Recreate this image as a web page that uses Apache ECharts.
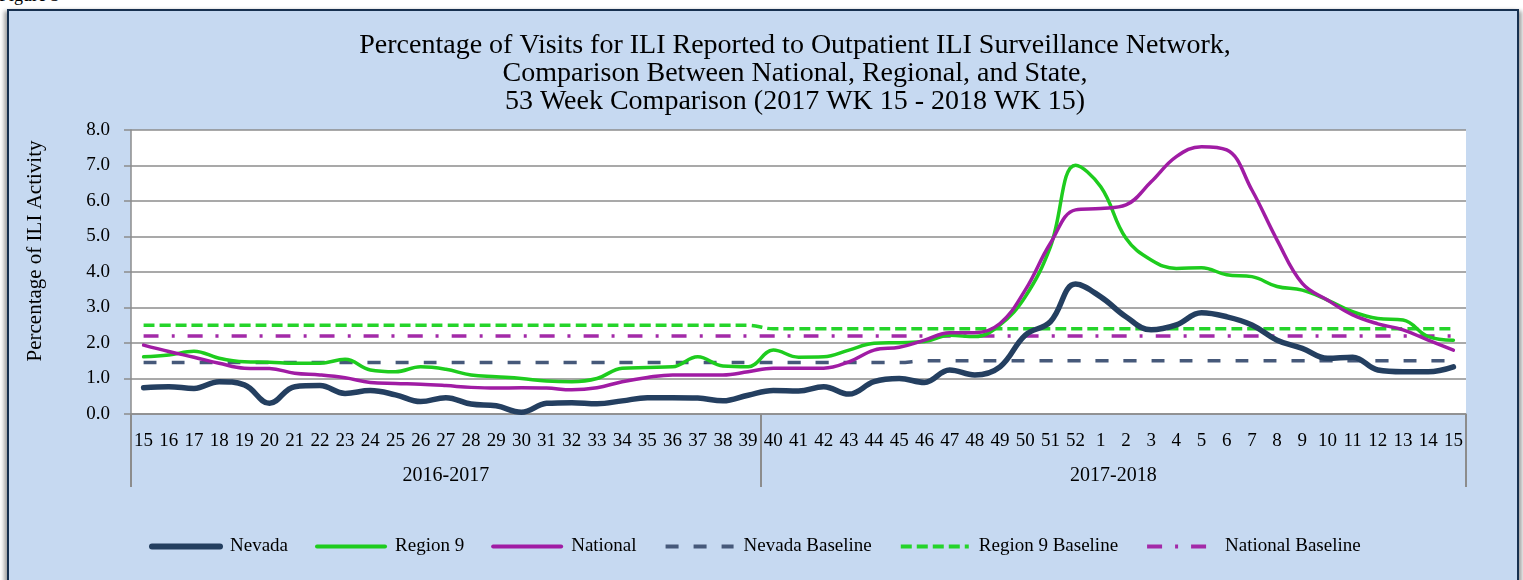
<!DOCTYPE html>
<html>
<head>
<meta charset="utf-8">
<script src="https://cdn.jsdelivr.net/npm/echarts@6/dist/echarts.min.js"></script>
<style>
html,body{margin:0;padding:0;background:#fff;width:1523px;height:580px;overflow:hidden;position:relative;}
#fig{position:absolute;left:-1px;top:-15px;font:18px "Liberation Serif",serif;color:#000;}
#frame{position:absolute;left:7px;top:9px;width:1508px;height:600px;background:#C6D9F1;border:2px solid #17304F;box-shadow:-3px 2px 4px rgba(0,0,0,0.35),3px 2px 4px rgba(0,0,0,0.35);}
#chart{position:absolute;left:0;top:0;width:1523px;height:580px;}
</style>
</head>
<body>
<div id="fig">Figure 3</div>
<div id="frame"></div>
<div id="chart"></div>
<script>
const titleLines = [
  'Percentage of Visits for ILI Reported to Outpatient ILI Surveillance Network,',
  'Comparison Between National, Regional, and State,',
  '53 Week Comparison (2017 WK 15 - 2018 WK 15)'
];
const weeks = ['15','16','17','18','19','20','21','22','23','24','25','26','27','28','29','30','31','32','33','34','35','36','37','38','39',
  '40','41','42','43','44','45','46','47','48','49','50','51','52','1','2','3','4','5','6','7','8','9','10','11','12','13','14','15'];
const seasons = ['2016-2017','2017-2018'];
const seasonWeekCounts = [25, 28];
const seriesNames = ['Nevada','Region 9','National','Nevada Baseline','Region 9 Baseline','National Baseline'];

const nevada = [0.74,0.77,0.72,0.91,0.82,0.30,0.77,0.80,0.58,0.66,0.54,0.35,0.46,0.28,0.23,0.05,0.30,0.32,0.29,0.37,0.46,0.46,0.45,0.37,0.53,
  0.66,0.65,0.77,0.56,0.91,1.00,0.89,1.24,1.10,1.33,2.22,2.60,3.66,3.30,2.74,2.37,2.51,2.85,2.74,2.51,2.08,1.85,1.57,1.60,1.24,1.19,1.19,1.33];
const region9 = [1.61,1.66,1.77,1.57,1.47,1.46,1.43,1.43,1.54,1.24,1.19,1.33,1.26,1.10,1.05,1.00,0.93,0.91,1.00,1.29,1.31,1.33,1.61,1.35,1.33,
  1.80,1.60,1.61,1.80,1.99,2.01,2.04,2.22,2.18,2.51,3.30,4.71,7.01,6.40,4.95,4.34,4.10,4.12,3.92,3.87,3.59,3.49,3.21,2.88,2.69,2.65,2.18,2.08];
const national = [1.94,1.76,1.60,1.43,1.29,1.28,1.15,1.10,1.02,0.89,0.86,0.84,0.80,0.75,0.73,0.74,0.73,0.68,0.74,0.91,1.03,1.10,1.10,1.10,1.19,
  1.29,1.29,1.29,1.47,1.80,1.88,2.08,2.29,2.29,2.55,3.49,4.81,5.75,5.79,5.89,6.54,7.25,7.53,7.44,6.31,4.90,3.68,3.21,2.79,2.54,2.37,2.08,1.80];
const nevadaBaseline = [1.45,1.45,1.45,1.45,1.45,1.45,1.45,1.45,1.45,1.45,1.45,1.45,1.45,1.45,1.45,1.45,1.45,1.45,1.45,1.45,1.45,1.45,1.45,1.45,1.45,
  1.45,1.45,1.45,1.45,1.45,1.45,1.5,1.5,1.5,1.5,1.5,1.5,1.5,1.5,1.5,1.5,1.5,1.5,1.5,1.5,1.5,1.5,1.5,1.5,1.5,1.5,1.5,1.5];
const region9Baseline = [2.5,2.5,2.5,2.5,2.5,2.5,2.5,2.5,2.5,2.5,2.5,2.5,2.5,2.5,2.5,2.5,2.5,2.5,2.5,2.5,2.5,2.5,2.5,2.5,2.5,
  2.4,2.4,2.4,2.4,2.4,2.4,2.4,2.4,2.4,2.4,2.4,2.4,2.4,2.4,2.4,2.4,2.4,2.4,2.4,2.4,2.4,2.4,2.4,2.4,2.4,2.4,2.4,2.4];
const nationalBaseline = [2.2,2.2,2.2,2.2,2.2,2.2,2.2,2.2,2.2,2.2,2.2,2.2,2.2,2.2,2.2,2.2,2.2,2.2,2.2,2.2,2.2,2.2,2.2,2.2,2.2,
  2.2,2.2,2.2,2.2,2.2,2.2,2.2,2.2,2.2,2.2,2.2,2.2,2.2,2.2,2.2,2.2,2.2,2.2,2.2,2.2,2.2,2.2,2.2,2.2,2.2,2.2,2.2,2.2];

// half-week slots for the season axis (boundaries and centres)
const totalHalf = weeks.length * 2;
const slots = [];
for (let j = 0; j <= totalHalf; j++) slots.push(String(j));
const sepSlots = [0];
const labelSlots = {};
let acc = 0;
seasonWeekCounts.forEach((c, k) => {
  labelSlots[acc * 2 + c] = seasons[k];
  acc += c;
  sepSlots.push(acc * 2);
});

const FONT = '"Liberation Serif", "DejaVu Serif", serif';
const grey = '#8C8C8C';

const styles = {
  'Nevada': { color: '#243F60', width: 5.5, type: 'solid', legendWidth: 6, z: 6 },
  'Region 9': { color: '#1ECC1E', width: 3.5, type: 'solid', legendWidth: 4, z: 5 },
  'National': { color: '#A01CA4', width: 3.5, type: 'solid', legendWidth: 4, z: 5 },
  'Nevada Baseline': { color: '#46597A', width: 3.5, type: [13, 15], legendWidth: 4, z: 3 },
  'Region 9 Baseline': { color: '#25D42A', width: 3.5, type: [11, 5], legendWidth: 4, z: 3 },
  'National Baseline': { color: '#A32AA8', width: 3.5, type: [15, 13, 3, 13], legendWidth: 4, z: 3 }
};
const seriesData = [nevada, region9, national, nevadaBaseline, region9Baseline, nationalBaseline];

const series = seriesNames.map((name, k) => {
  const s = styles[name];
  return {
    name, type: 'line', data: seriesData[k], xAxisIndex: 0, smooth: 0.4, symbol: 'none', z: s.z,
    lineStyle: { color: s.color, width: s.width, type: s.type, cap: s.type === 'solid' ? 'round' : 'butt' },
    itemStyle: { color: s.color }
  };
});
const legendData = seriesNames.map((name) => {
  const s = styles[name];
  return { name, lineStyle: { color: s.color, width: s.legendWidth, type: s.type, cap: s.type === 'solid' ? 'round' : 'butt' } };
});

const chart = echarts.init(document.getElementById('chart'), null, { renderer: 'canvas' });
chart.setOption({
  animation: false,
  backgroundColor: 'transparent',
  textStyle: { fontFamily: FONT },
  title: {
    text: titleLines.join('\n'),
    left: 790, top: 27, textAlign: 'center',
    textStyle: { fontFamily: FONT, fontSize: 28, fontWeight: 'normal', color: '#000', lineHeight: 28 }
  },
  grid: { left: 131, right: 57, top: 130, bottom: 166, show: true, backgroundColor: '#fff', borderWidth: 0 },
  legend: {
    data: legendData, left: 144, top: 532, itemWidth: 68, itemHeight: 16, itemGap: 27,
    itemStyle: { opacity: 0 },
    textStyle: { fontFamily: FONT, fontSize: 19, color: '#000', padding: [0, 0, 0, 5] }
  },
  xAxis: [
    {
      type: 'category', data: weeks, boundaryGap: true, position: 'bottom',
      axisLine: { lineStyle: { color: grey, width: 1.5 } },
      axisTick: { show: false },
      axisLabel: { interval: 0, margin: 18, fontSize: 19, color: '#000', fontFamily: FONT },
      splitLine: { show: false }
    },
    {
      type: 'category', data: slots, boundaryGap: false, position: 'bottom',
      axisLine: { show: false },
      axisTick: { show: true, length: 73, interval: (i) => sepSlots.indexOf(i) >= 0, lineStyle: { color: grey, width: 2 } },
      axisLabel: { interval: (i) => labelSlots[i] !== undefined, formatter: (v, i) => labelSlots[i] || '', margin: 52, fontSize: 20, color: '#000', fontFamily: FONT },
      splitLine: { show: false }
    }
  ],
  yAxis: {
    type: 'value', min: 0, max: 8, interval: 1,
    name: 'Percentage of ILI Activity', nameLocation: 'middle', nameGap: 85,
    nameTextStyle: { fontSize: 21, color: '#000', fontFamily: FONT, padding: [0, 0, 0, 42] },
    axisLine: { show: true, lineStyle: { color: grey, width: 1.5 } },
    axisTick: { show: true, length: 7, lineStyle: { color: grey, width: 1.5 } },
    axisLabel: { formatter: (v) => v.toFixed(1), margin: 21, fontSize: 19, color: '#000', fontFamily: FONT },
    splitLine: { lineStyle: { color: grey, width: 1.5 } }
  },
  series
});
</script>
</body>
</html>
